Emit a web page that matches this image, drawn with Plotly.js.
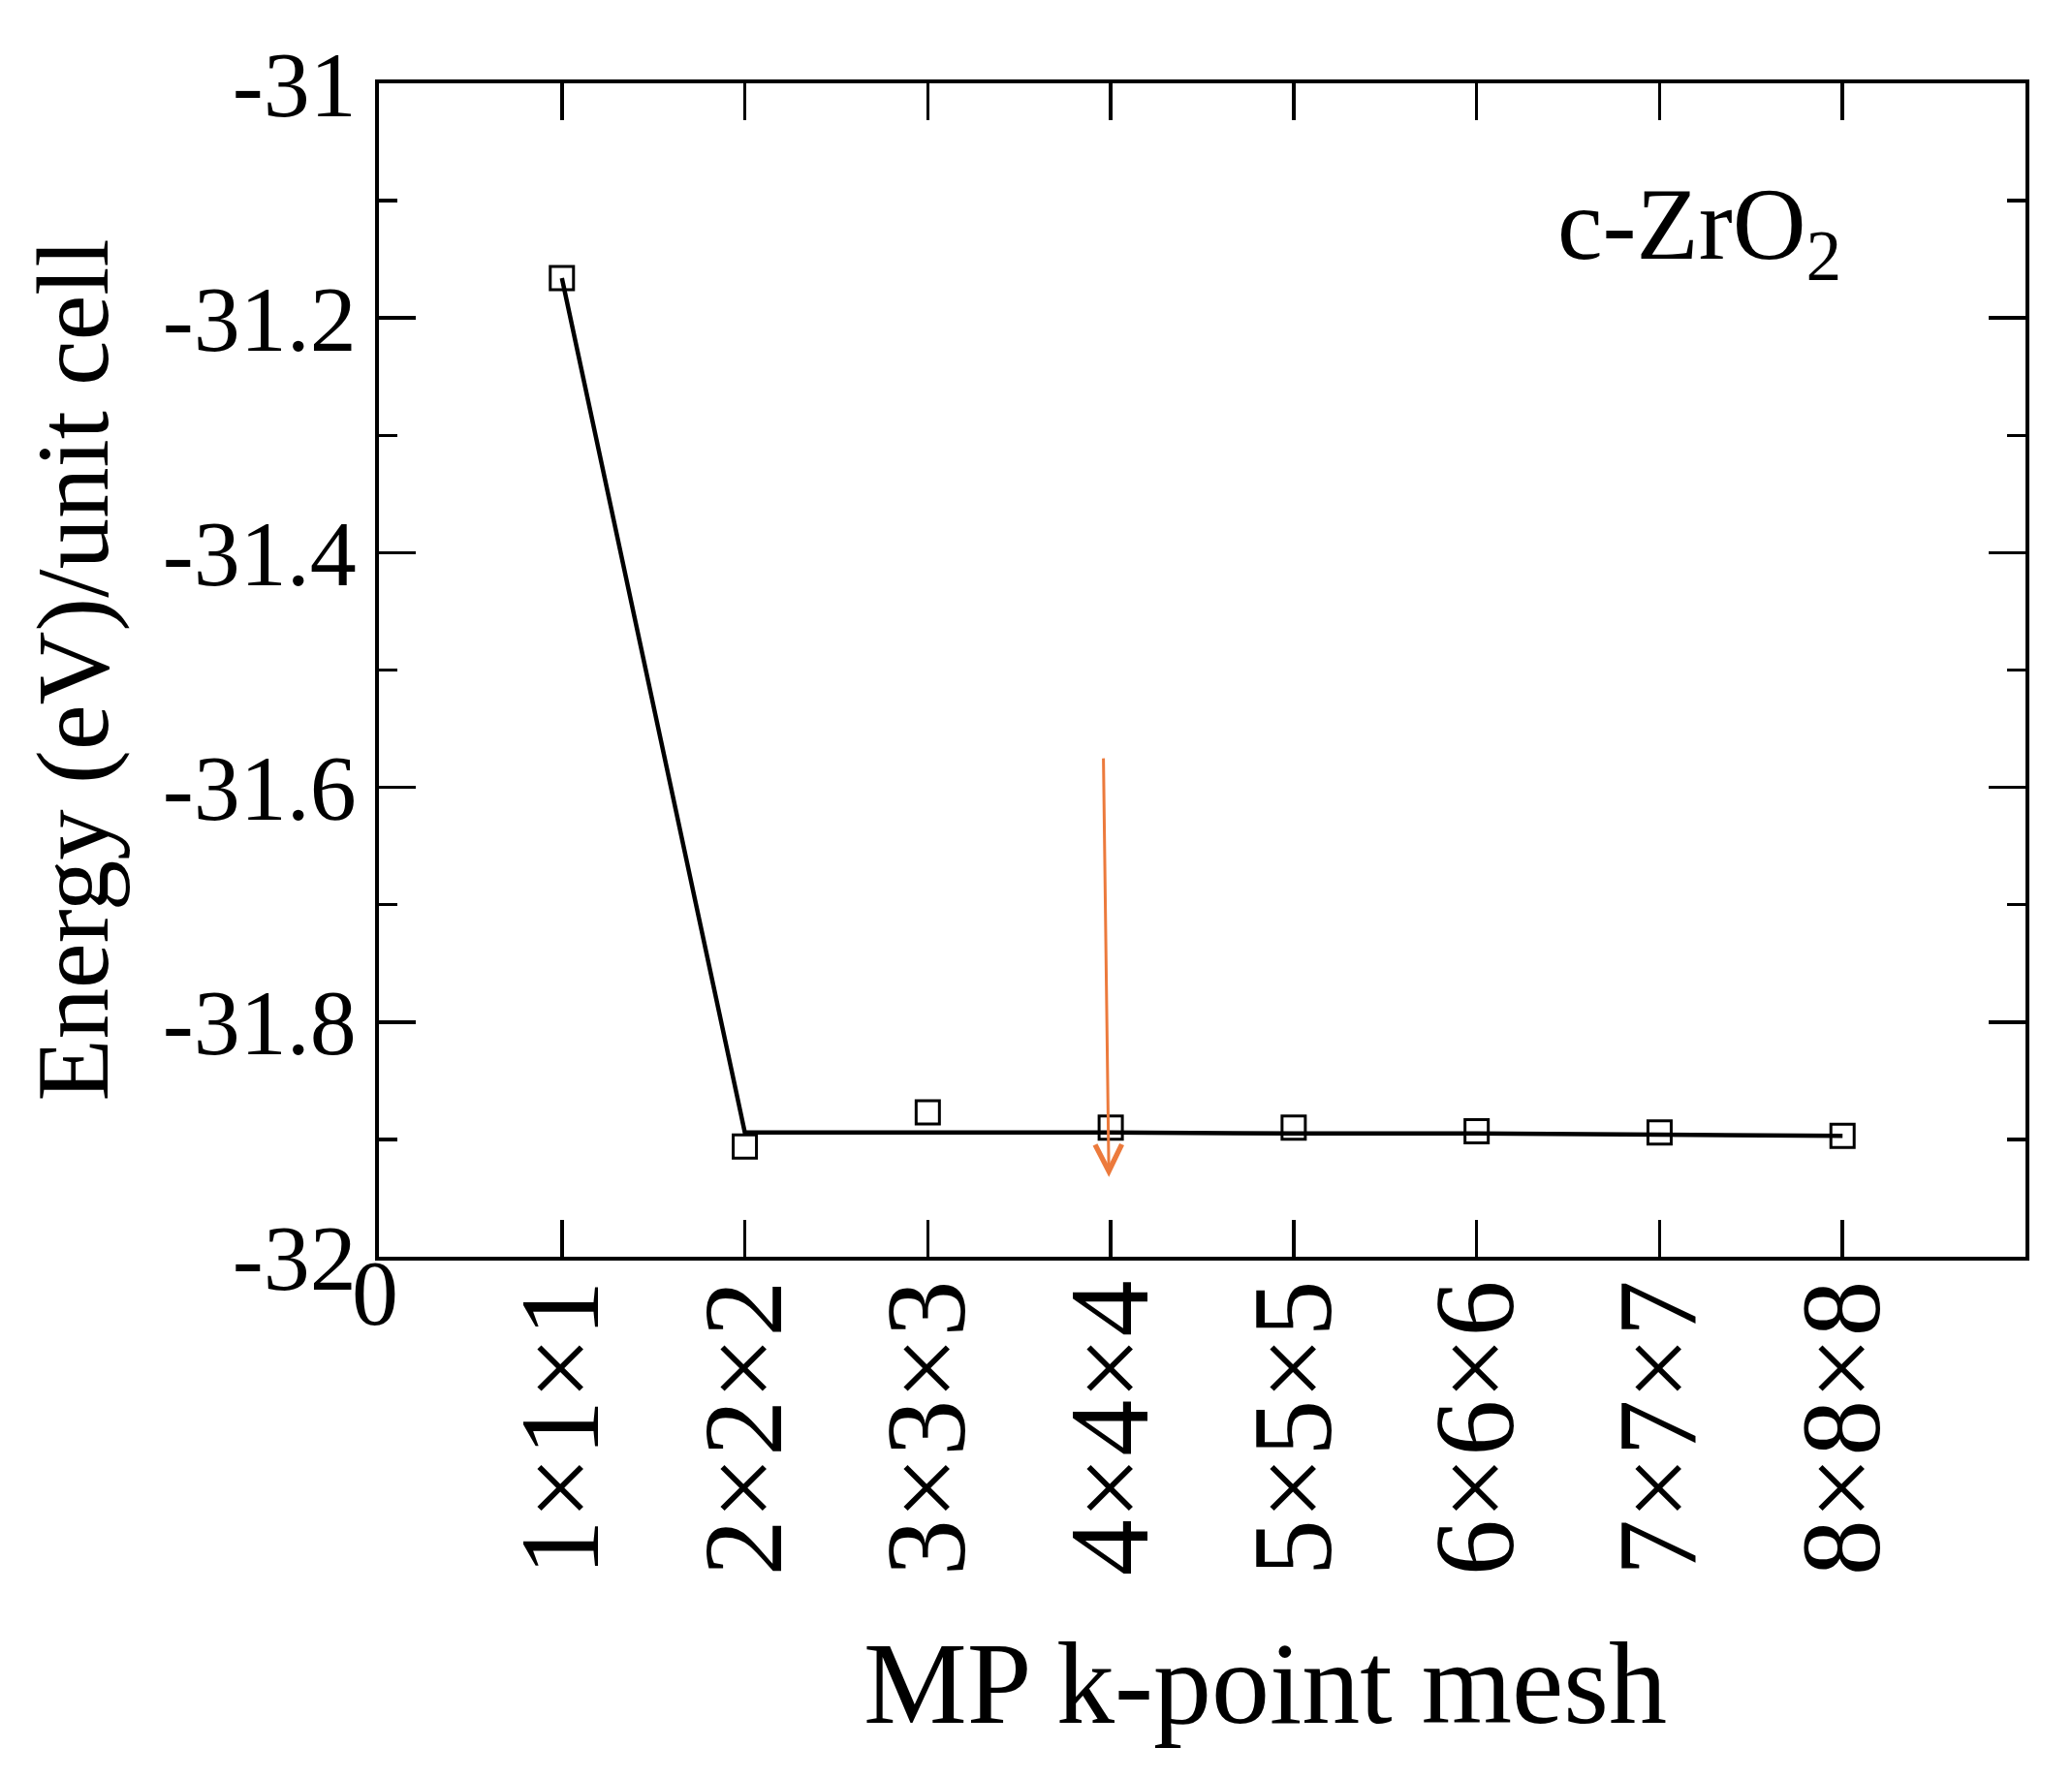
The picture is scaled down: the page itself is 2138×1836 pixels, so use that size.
<!DOCTYPE html>
<html>
<head>
<meta charset="utf-8">
<script src="https://cdn.plot.ly/plotly-3.0.1.min.js"></script>
<style>html,body{margin:0;padding:0;background:#fff;}#chart{width:2138px;height:1836px;}</style>
</head>
<body>
<div id="chart"></div>
<script>
// Data
const meshLabels = ['1×1×1', '2×2×2', '3×3×3', '4×4×4', '5×5×5', '6×6×6', '7×7×7', '8×8×8'];
const meshIndex = [1, 2, 3, 4, 5, 6, 7, 8];
const energyPoints = [-31.166, -31.906, -31.877, -31.890, -31.890, -31.893, -31.894, -31.897];
const energyLine = [-31.166, -31.894, -31.894, -31.894, -31.895, -31.895, -31.896, -31.897];
const yTickVals = [-32, -31.8, -31.6, -31.4, -31.2, -31];
const yTickText = ['-32', '-31.8', '-31.6', '-31.4', '-31.2', '-31'];

const FONT = '"Liberation Serif", "Times New Roman", Times, serif';

const traces = [
  {
    x: meshIndex, y: energyLine, type: 'scatter', mode: 'lines',
    line: {color: '#000', width: 4.5}, hoverinfo: 'skip', showlegend: false
  },
  {
    x: meshIndex, y: energyPoints, type: 'scatter', mode: 'markers',
    marker: {symbol: 'square-open', size: 24, color: '#000', line: {width: 3, color: '#000'}},
    showlegend: false
  }
];

const axisCommon = {
  showline: true, linecolor: '#000', linewidth: 4, mirror: 'ticks',
  ticks: 'inside', tickcolor: '#000', tickwidth: 3.5, ticklen: 38,
  showgrid: false, zeroline: false
};

const layout = {
  width: 2138, height: 1836,
  paper_bgcolor: '#fff', plot_bgcolor: '#fff',
  margin: {l: 391, r: 48, t: 86, b: 539, autoexpand: false},
  font: {family: FONT, color: '#000'},
  xaxis: Object.assign({}, axisCommon, {
    range: [0, 9],
    tickmode: 'array',
    tickvals: [0].concat(meshIndex),
    ticktext: [''].concat(meshLabels),
    tickangle: -90,
    tickfont: {family: FONT, size: 116, color: '#000'},
    ticklabelstandoff: -26
  }),
  yaxis: Object.assign({}, axisCommon, {
    range: [-32, -31],
    tickmode: 'array',
    tickvals: yTickVals,
    ticktext: yTickText,
    tickfont: {family: FONT, size: 96, color: '#000'},
    minor: {dtick: 0.1, tick0: -32, ticks: 'inside', ticklen: 19, tickwidth: 3.5, tickcolor: '#000', showgrid: false},
    title: {text: 'Energy (eV)/unit cell', font: {family: FONT, size: 105, color: '#000'}, standoff: 22}
  }),
  annotations: [
    {
      xref: 'paper', yref: 'paper', x: 0.538, y: -0.307, xanchor: 'center', yanchor: 'top',
      text: 'MP k-point mesh', showarrow: false,
      font: {family: FONT, size: 120, color: '#000'}
    },
    {
      xref: 'paper', yref: 'paper', x: -0.0024, y: -0.031, xanchor: 'center', yanchor: 'middle',
      text: '0', showarrow: false,
      font: {family: FONT, size: 96, color: '#000'}
    },
    {
      xref: 'paper', yref: 'paper', x: 0.7145, y: 0.93, xanchor: 'left', yanchor: 'top',
      text: 'c-ZrO<sub>2</sub>', showarrow: false,
      font: {family: FONT, size: 105, color: '#000'}
    },
    {
      xref: 'x', yref: 'y', axref: 'x', ayref: 'y',
      x: 3.99, y: -31.932, ax: 3.96, ay: -31.574,
      text: '', showarrow: true, arrowhead: 5, arrowsize: 1.8, arrowwidth: 3,
      arrowcolor: '#EC7A3C', standoff: 0
    }
  ]
};

Plotly.newPlot('chart', traces, layout, {staticPlot: true, displayModeBar: false});
</script>
</body>
</html>
